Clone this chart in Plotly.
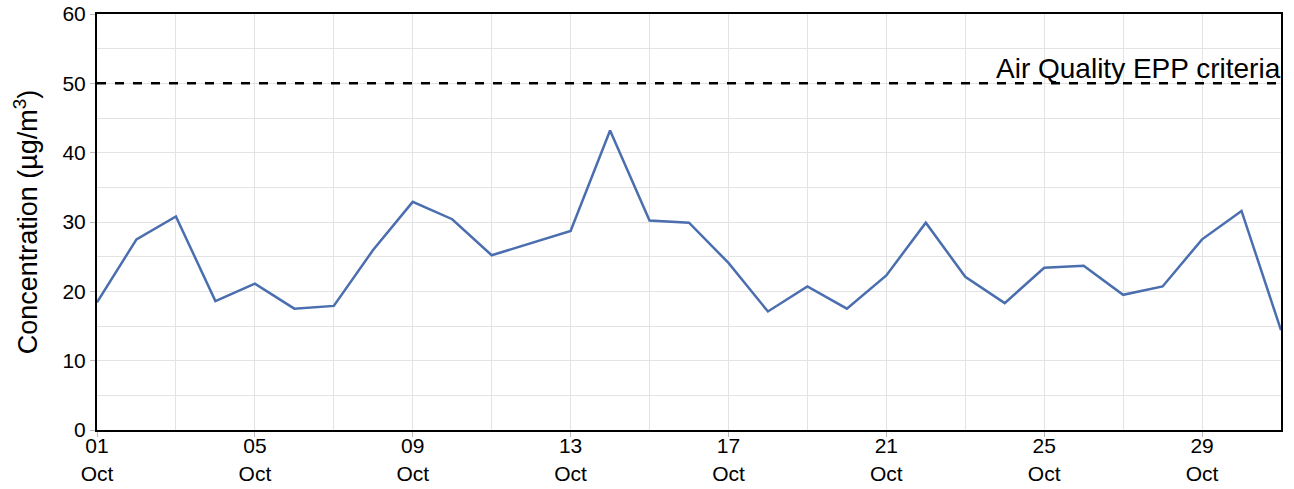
import plotly.graph_objects as go
import pandas as pd

dates = pd.date_range("2023-10-01", "2023-10-31", freq="D")
concentration = [18.4, 27.5, 30.8, 18.6, 21.1, 17.5, 17.9, 26.0, 32.9, 30.4,
                 25.2, 26.9, 28.7, 43.2, 30.2, 29.9, 24.1, 17.1, 20.7, 17.5,
                 22.3, 29.9, 22.1, 18.3, 23.4, 23.7, 19.5, 20.7, 27.5, 31.6, 14.4]
criteria = 50
criteria_label = "Air Quality EPP criteria"

font = "Liberation Sans, Arial, sans-serif"

fig = go.Figure()
fig.add_trace(go.Scatter(x=dates, y=concentration, mode="lines",
                         line=dict(color="#4a6eae", width=2.5), showlegend=False))
fig.add_trace(go.Scatter(x=[dates[0], dates[-1]], y=[criteria, criteria], mode="lines",
                         line=dict(color="black", width=2.5, dash="dash"), showlegend=False))
fig.add_annotation(x=dates[-1], y=criteria, xref="x", yref="y", text=criteria_label,
                   showarrow=False, xanchor="right", yanchor="bottom", yshift=-3, xshift=2,
                   font=dict(family=font, size=28, color="black"))

fig.update_layout(
    width=1294, height=489,
    margin=dict(l=97, r=13, t=14, b=59),
    plot_bgcolor="white", paper_bgcolor="white",
    font=dict(family=font, size=20, color="black"),
    xaxis=dict(
        range=[dates[0], dates[-1]], tickformat="%d<br>%b",
        tick0=dates[0], dtick=4 * 86400000,
        showgrid=True, gridcolor="#e3e3e3", gridwidth=1.3,
        minor=dict(dtick=2 * 86400000, showgrid=True, gridcolor="#e3e3e3", gridwidth=1.3),
        showline=True, linecolor="black", linewidth=2, mirror=True,
        ticks="outside", ticklen=5, tickcolor="#bbbbbb",
        tickfont=dict(size=21), zeroline=False, automargin=False,
        ticklabeloverflow="allow", ticklabelstandoff=-9,
    ),
    yaxis=dict(
        range=[0, 60], dtick=10,
        showgrid=True, gridcolor="#e3e3e3", gridwidth=1.3,
        minor=dict(dtick=5, showgrid=True, gridcolor="#e3e3e3", gridwidth=1.3),
        showline=True, linecolor="black", linewidth=2, mirror=True,
        ticks="outside", ticklen=5, tickcolor="#bbbbbb",
        tickfont=dict(size=21), zeroline=False, automargin=False,
        ticklabeloverflow="allow",
        title=dict(text="Concentration (µg/m<sup>3</sup>)", font=dict(size=27), standoff=17),
    ),
)

fig.write_html("out.html", config={"displayModeBar": False},
               post_script="document.body.style.margin='0';document.body.style.overflow='hidden';")
